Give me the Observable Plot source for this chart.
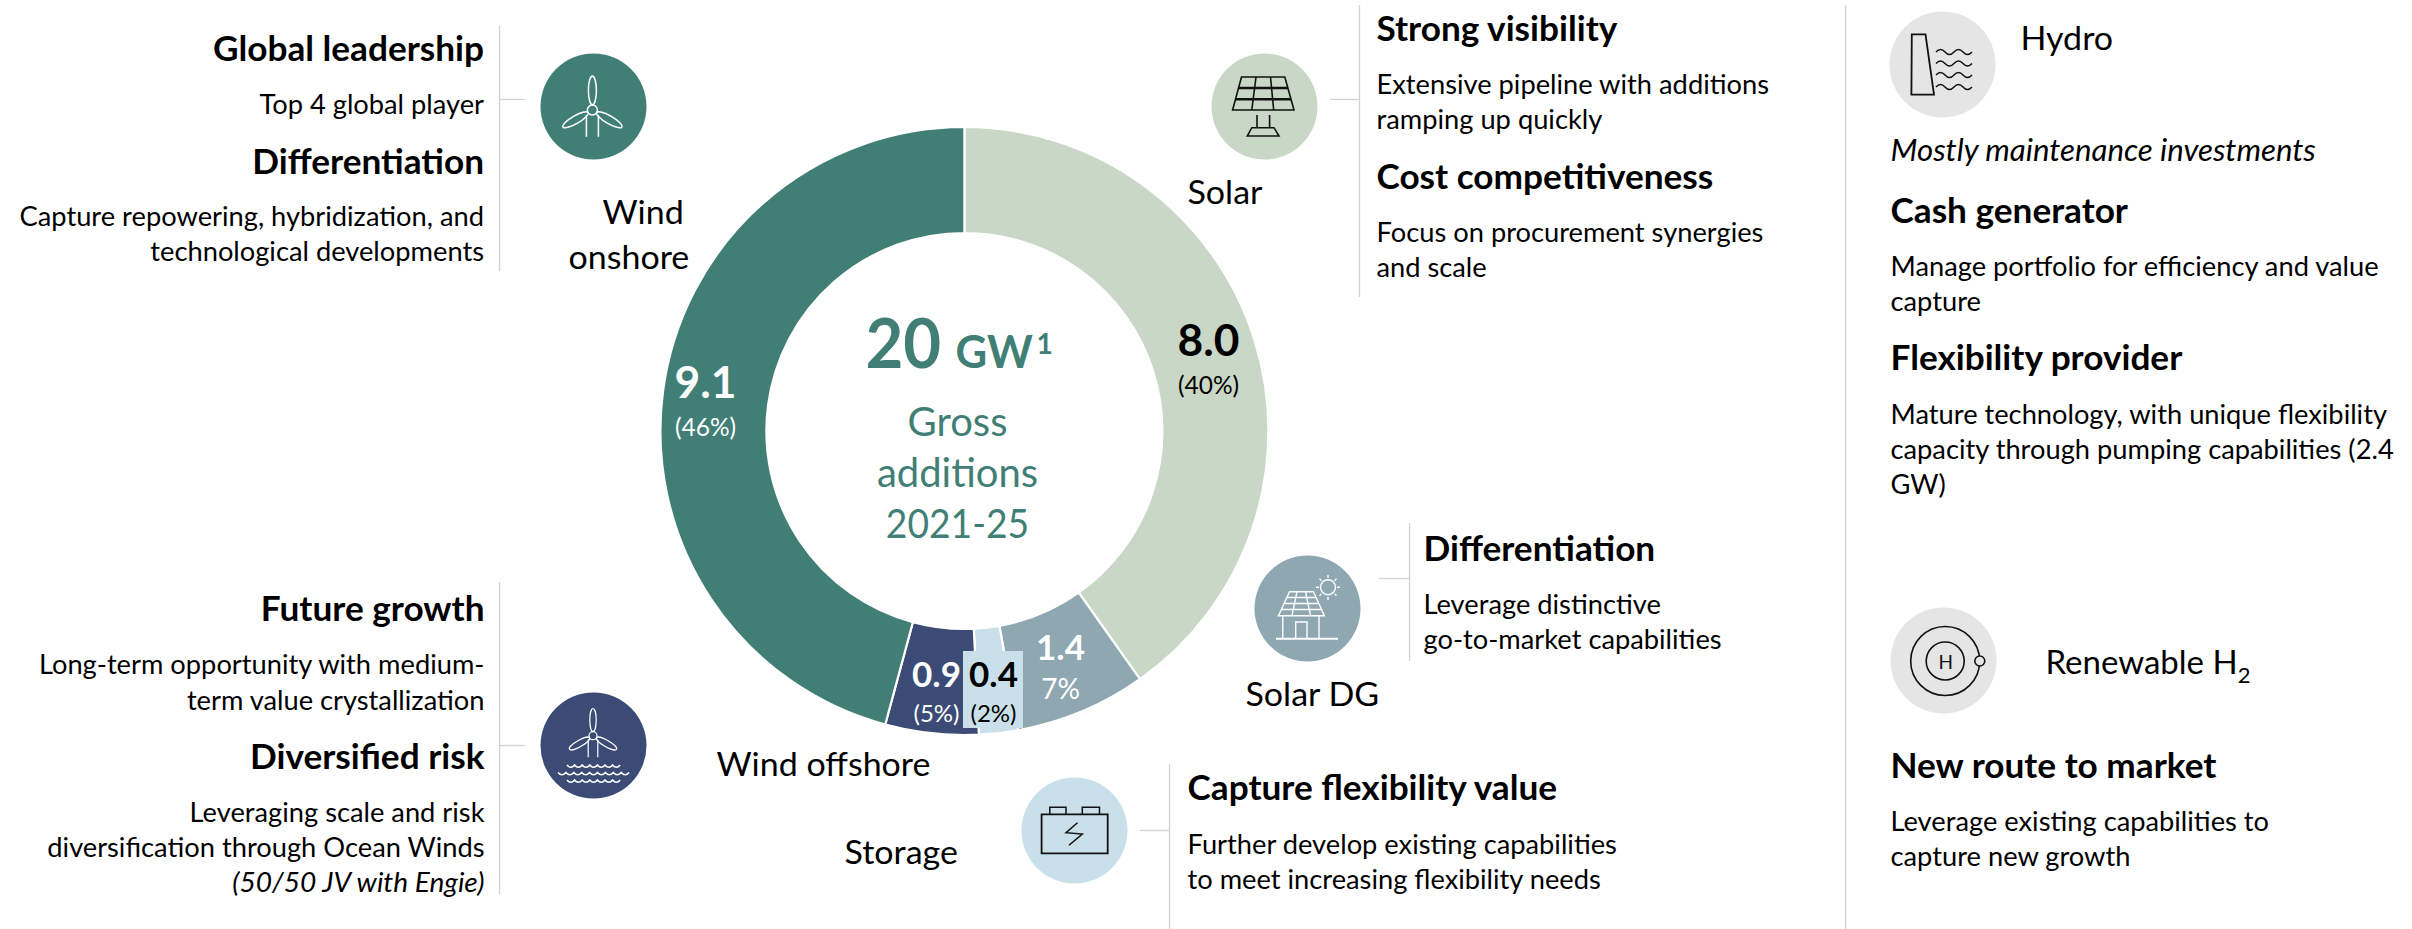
<!DOCTYPE html>
<html><head><meta charset="utf-8">
<style>html,body{margin:0;padding:0;background:#fff}svg{display:block}</style>
<script src="https://cdn.jsdelivr.net/npm/d3@7"></script>
<script src="https://cdn.jsdelivr.net/npm/@observablehq/plot@0.6"></script>
</head><body><div id="chart"></div>
<script>
// ---- data ----
const techNames = ["Solar","Solar DG","Storage","Wind offshore","Wind onshore"];
// slice sizes as read from the drawn arcs (GW); the printed labels are below
const sliceValues = [7.96,1.38,0.41,0.98,9.07];
const valueLabels = ["8.0","1.4","0.4","0.9","9.1"];
const shareLabels = ["(40%)","7%","(2%)","(5%)","(46%)"];
const techColors = ["#c9d7c6","#8ea7b0","#c9e0ea","#3b4b75","#417f76"];
const centerLines = ["Gross","additions","2021-25"];
const onshoreText = ["Global leadership","Top 4 global player","Differentiation","Capture repowering, hybridization, and","technological developments"];
const offshoreText = ["Future growth","Long-term opportunity with medium-","term value crystallization","Diversified risk","Leveraging scale and risk","diversification through Ocean Winds","(50/50 JV with Engie)"];
const solarText = ["Strong visibility","Extensive pipeline with additions","ramping up quickly","Cost competitiveness","Focus on procurement synergies","and scale"];
const dgText = ["Differentiation","Leverage distinctive","go-to-market capabilities"];
const storageText = ["Capture flexibility value","Further develop existing capabilities","to meet increasing flexibility needs"];
const hydroText = ["Mostly maintenance investments","Cash generator","Manage portfolio for efficiency and value","capture","Flexibility provider","Mature technology, with unique flexibility","capacity through pumping capabilities (2.4","GW)"];
const h2Text = ["New route to market","Leverage existing capabilities to","capture new growth"];

// ---- layout (pixels of the picture) ----
const W = 2412, H = 929, CX = 964.4, CY = 431, R0 = 198, R1 = 304;
const INK = "#000", TEAL = "#417f76", LINE = "#d2d2d2", GREY = "#e5e5e5";
const FONT = "Lato";
const styleOf = {
  head:{fontSize:34,fontWeight:700,className:"f-head",fill:INK},
  body:{fontSize:27,className:"f-body",fill:INK},
  ital:{fontSize:27,fontStyle:"italic",className:"f-ital",fill:INK},
  ital2:{fontSize:30,fontStyle:"italic",className:"f-ital2",fill:INK},
  name:{fontSize:33,className:"f-name",fill:INK}
};
const blocks = [
  {lines:onshoreText, x:483.5, a:"end", ys:[60,113,173,225,260], k:["head","body","head","body","body"]},
  {lines:offshoreText, x:484, a:"end", ys:[620,673,709,768,821,856,891], k:["head","body","body","head","body","body","ital"]},
  {lines:solarText, x:1376, a:"start", ys:[40,93,128,188,241,276], k:["head","body","body","head","body","body"]},
  {lines:dgText, x:1423, a:"start", ys:[560,613,648], k:["head","body","body"]},
  {lines:storageText, x:1187, a:"start", ys:[799,853,888], k:["head","body","body"]},
  {lines:hydroText, x:1890, a:"start", ys:[160,222,275,310,369,423,458,493], k:["ital2","head","body","body","head","body","body","body"]},
  {lines:h2Text, x:1890, a:"start", ys:[777,830,865], k:["head","body","body"]}
];
const textRows = blocks.flatMap(b => b.lines.map((t,i)=>({t,x:b.x,y:b.ys[i],a:b.a,k:b.k[i]})));
const textMarks = ["head","body","ital","ital2"].flatMap(k => ["start","end"].map(a =>
  Plot.text(textRows.filter(d=>d.k===k && d.a===a),{x:"x",y:"y",text:"t",textAnchor:a,lineAnchor:"bottom",fontFamily:FONT,...styleOf[k]})));

const nameRows = [
  {t:"Wind",x:602,y:223},{t:"onshore",x:568,y:268},{t:"Solar",x:1187,y:203},{t:"Solar DG",x:1245,y:705},
  {t:techNames[3],x:716,y:775},{t:techNames[2],x:844,y:863},{t:"Hydro",x:2020,y:49},{t:"Renewable H2",x:2045,y:673}
];
const iconSpots = [
  {n:"Wind onshore",x:593,y:106},{n:"Wind offshore",x:593,y:745},{n:"Solar",x:1264,y:106},
  {n:"Solar DG",x:1307,y:608},{n:"Storage",x:1074,y:830}
];
const greySpots = [{x:1942,y:64},{x:1943,y:660}];
const vRules = [
  {x:499,y1:26,y2:271},{x:499,y1:582,y2:894},{x:1359,y1:5,y2:297},{x:1409,y1:523,y2:661},{x:1169,y1:764,y2:929},{x:1845,y1:5,y2:929}
];
const hRules = [
  {y:99,x1:499,x2:525},{y:745,x1:499,x2:525},{y:99,x1:1330,x2:1359},{y:578,x1:1379,x2:1409},{y:830,x1:1140,x2:1169}
];
const sliceLabels = [
  {i:0,x:1208,y:355,y2:393,ink:INK,vs:43,ss:24.5,c:"f-big"},{i:1,x:1060,y:659,y2:698,ink:"#fff",vs:34,ss:28,c:"f-small"},
  {i:2,x:993,y:686,y2:721,ink:INK,vs:34,ss:24,c:"f-small"},{i:3,x:936,y:686,y2:721,ink:"#fff",vs:34,ss:24,c:"f-small"},{i:4,x:705,y:397,y2:435,ink:"#fff",vs:43,ss:24.5,c:"f-big"}
];

// donut: a custom mark, angles from d3.pie on the values, placed through Plot's scales
function donut(index, scales) {
  const rows = techNames.map((n,i)=>({n,v:sliceValues[i]}));
  const arcs = d3.pie().value(d=>d.v).sort(null)(rows);
  const arc = d3.arc().innerRadius(R0).outerRadius(R1);
  const g = d3.create("svg:g").attr("transform",`translate(${scales.x(CX)},${scales.y(CY)})`);
  g.selectAll("path").data(arcs).join("path")
    .attr("d",arc).attr("fill",d=>scales.color(d.data.n)).attr("stroke","#fff").attr("stroke-width",2.2);
  return g.node();
}

// icon line art
const blade = `<ellipse cy="-19.5" rx="4" ry="14.5"/>`;
function turbine(x,y,s,base){
  return `<g transform="translate(${x},${y}) scale(${s})">`+
  [0,120,240].map(a=>`<g transform="rotate(${a})">${blade}</g>`).join("")+
  `<circle r="5"/><path d="M-6,5V${base}M6,5V${base}"/></g>`;
}
function wavePath(x0,x1,y,step){let d=`M${x0},${y}`;for(let x=x0;x<x1;x+=step)d+=`Q${x+step/2},${y+4.5} ${x+step},${y}`;return d;}
function sinePath(x0,y){let d=`M${x0},${y+2}`;const s=9;for(let i=0;i<4;i++){d+=`Q${x0+s*i+s/2},${y+(i%2?7:-3)} ${x0+s*(i+1)},${y+2}`;}return d;}
const icons = `
<g fill="none" stroke="#fff" stroke-width="1.5">${turbine(592.4,110,1,26.7)}</g>
<g fill="none" stroke="#fff" stroke-width="1.5">${turbine(593,735.7,.8,27)}
  <path d="${wavePath(567,620,765,7.6)}"/><path d="${wavePath(558,629,772.5,7.9)}"/><path d="${wavePath(567,620,780,7.6)}"/></g>
<g fill="none" stroke="#111" stroke-width="1.6">
  <path d="M1241.5,77H1284.8L1294,110H1232.6Z"/><path stroke-width="2.4" d="M1238.4,88H1288M1235.4,99.3H1291"/>
  <path d="M1256,77L1251.8,110M1270.5,77L1273.7,110M1257,115V127.7M1269.6,115V127.7M1251.8,127.7H1274L1279,136H1247.3Z"/></g>
<g fill="none" stroke="#fff" stroke-width="1.4">
  <path stroke-width="2" d="M1276,638.7H1338"/><path d="M1282.8,616V638.7M1319,616V638.7M1295.7,638.7V622H1307V638.7"/>
  <path d="M1289.5,591.7H1313.4L1324.4,615.7H1278.5Z"/>
  <path d="M1287,597.5H1316M1284.5,603.5H1319M1282,609.5H1321.5M1297,591.7L1292,615.7M1305.5,591.7L1310.5,615.7"/>
  <circle cx="1328" cy="587.3" r="7.5"/>
  <path d="M1328,575V578M1328,597V600M1316,587.3H1319M1337,587.3H1340M1319.5,578.8L1321.5,580.8M1334.5,593.8L1336.5,595.8M1319.5,595.8L1321.5,593.8M1334.5,580.8L1336.5,578.8"/></g>
<g fill="none" stroke="#111" stroke-width="1.5">
  <path stroke-width="1.8" d="M1041.6,814.3H1107.7V853.3H1041.6Z"/><path d="M1049.8,814.3V807.3H1066V814.3M1082.3,814.3V807.3H1099.5V814.3"/>
  <path d="M1077.5,822.7L1066,832.7L1082.3,834L1069,845.3"/></g>
<g fill="none" stroke="#111" stroke-width="1.5">
  <path stroke-width="1.8" d="M1911.8,34.3H1925.5L1934,94.7H1911.4Z"/>
  <path d="${sinePath(1936,50)}"/><path d="${sinePath(1936,61.5)}"/><path d="${sinePath(1936,73)}"/><path d="${sinePath(1936,85)}"/></g>
<g fill="none" stroke="#111" stroke-width="1.6">
  <circle cx="1945.2" cy="661" r="34.5"/><circle cx="1945.2" cy="661" r="19"/>
  <circle cx="1979.8" cy="661" r="5" fill="${GREY}"/></g>`;
function iconMark(){
  const g = document.createElementNS("http://www.w3.org/2000/svg","g");
  g.innerHTML = icons;
  return g;
}
const tx = (rows,o) => Plot.text(rows,{x:"x",y:"y",text:"t",lineAnchor:"bottom",fontFamily:FONT,...o});

const chart = Plot.plot({
  width:W,height:H,margin:0,
  style:{background:"#fff"},
  x:{domain:[0,W],range:[0,W],axis:null},
  y:{domain:[0,H],range:[0,H],axis:null},
  color:{domain:techNames,range:techColors},
  marks:[
    Plot.ruleX(vRules,{x:"x",y1:"y1",y2:"y2",stroke:LINE,strokeWidth:1.3}),
    Plot.ruleY(hRules,{y:"y",x1:"x1",x2:"x2",stroke:LINE,strokeWidth:1.3}),
    donut,
    Plot.rect([{x1:963,x2:1023,y1:651,y2:728}],{x1:"x1",x2:"x2",y1:"y1",y2:"y2",fill:techColors[2]}),
    Plot.dot(iconSpots,{x:"x",y:"y",r:53,fill:"n"}),
    Plot.dot(greySpots,{x:"x",y:"y",r:53,fill:GREY}),
    iconMark,
    tx([{t:"H",x:1945.2,y:668}],{fontSize:19,fill:"#111",textAnchor:"middle"}),
    ...textMarks,
    tx(nameRows,{textAnchor:"start",...styleOf.name}),
    ...sliceLabels.map(s=>tx([{t:valueLabels[s.i],x:s.x,y:s.y}],{fontSize:s.vs,fontWeight:700,fill:s.ink,textAnchor:"middle",className:s.c})),
    ...sliceLabels.map(s=>tx([{t:shareLabels[s.i],x:s.x,y:s.y2}],{fontSize:s.ss,fill:s.ink,textAnchor:"middle"})),
    tx([{t:"20",x:865,y:367}],{fontSize:68,fontWeight:700,fill:TEAL,textAnchor:"start",className:"f-twenty"}),
    tx([{t:"GW",x:955,y:367}],{fontSize:46,fontWeight:700,fill:TEAL,textAnchor:"start",className:"f-gw"}),
    tx([{t:"1",x:1036,y:353}],{fontSize:28,fontWeight:700,fill:TEAL,textAnchor:"start"}),
    tx(centerLines.slice(0,2).map((t,i)=>({t,x:957,y:[435,486][i]})),{fontSize:40,fill:TEAL,textAnchor:"middle"}),
    tx([{t:centerLines[2],x:957,y:537}],{fontSize:40,fill:TEAL,textAnchor:"middle",className:"f-years"})
  ]
});
document.getElementById("chart").append(chart);

// Lato's set width differs a little from the reference's humanist face: match each line's width
const squeeze = {"f-head":1.035,"f-body":1.01,"f-ital":1.04,"f-ital2":1.04,"f-name":1.03,"f-big":1.03,"f-small":1.03,"f-twenty":.96,"f-gw":.95,"f-years":.93};
for (const [c,f] of Object.entries(squeeze)) {
  chart.querySelectorAll(`.${c} text`).forEach(t=>{
    const w=t.getComputedTextLength();
    t.setAttribute("textLength",(w*f).toFixed(1));
    t.setAttribute("lengthAdjust","spacingAndGlyphs");
  });
}
// subscript in H2
chart.querySelectorAll("text").forEach(t=>{
  if(t.textContent==="Renewable H2"){
    t.removeAttribute("textLength");
    t.textContent="Renewable H";
    const s=document.createElementNS("http://www.w3.org/2000/svg","tspan");
    s.setAttribute("dy","9");s.setAttribute("font-size","22");s.textContent="2";t.append(s);
  }
});
</script></body></html>
